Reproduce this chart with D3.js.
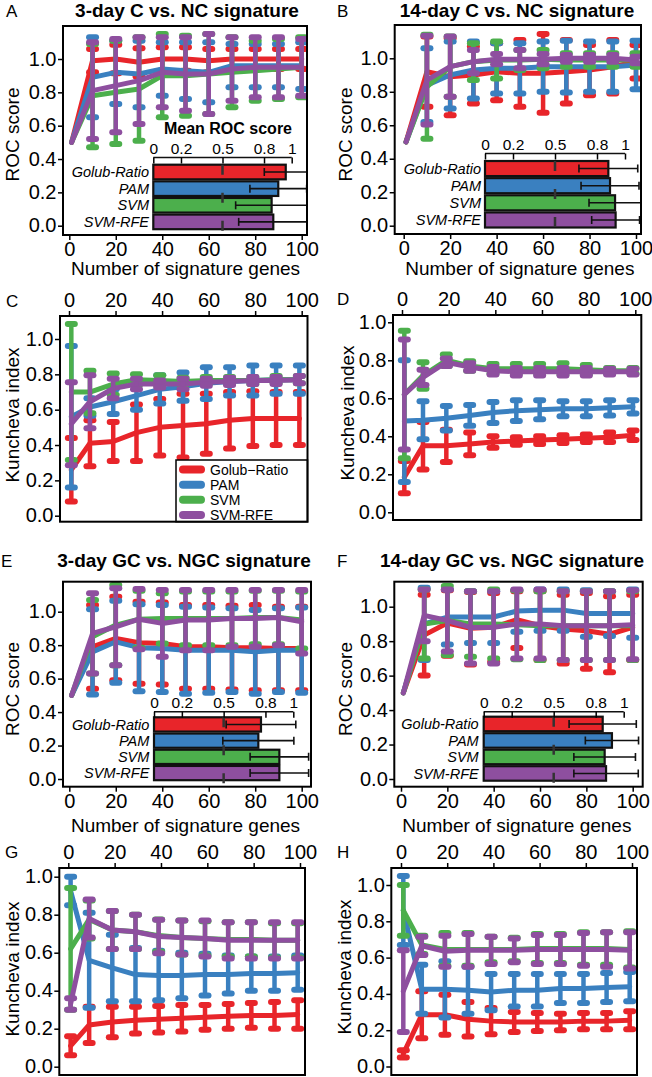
<!DOCTYPE html>
<html><head><meta charset="utf-8">
<script src="https://cdn.jsdelivr.net/npm/d3@7"></script>
<style>body{margin:0;background:#fff} svg{display:block}</style>
</head><body><svg id="c" width="652" height="1077"></svg>
<script>
// ---------- data ----------
const methods = ["Golub-Ratio", "PAM", "SVM", "SVM-RFE"];
const legendLabels = ["Golub\u2212Ratio", "PAM", "SVM", "SVM-RFE"];
const colors = ["#E8252A", "#3A80C0", "#4CAF4C", "#8E4F9F"];
const rocX = [1, 10, 20, 30, 40, 50, 60, 70, 80, 90, 100];
const kunX = [1, 9, 19, 29, 39, 49, 59, 69, 79, 89, 99];
const xTicks = [0, 20, 40, 60, 80, 100];
const yTicks = [0, 0.2, 0.4, 0.6, 0.8, 1.0];
const barTicks = [0, 0.2, 0.5, 0.8, 1];

// Panel A: 3-day C vs NC, ROC
const A_mean = [
  [0.5, 0.99, 1.0, 0.98, 1.0, 1.0, 0.99, 1.0, 1.0, 1.0, 1.0],
  [0.5, 0.89, 0.92, 0.91, 0.94, 0.93, 0.92, 0.96, 0.96, 0.96, 0.96],
  [0.5, 0.78, 0.80, 0.82, 0.90, 0.90, 0.91, 0.92, 0.93, 0.94, 0.95],
  [0.5, 0.81, 0.84, 0.87, 0.92, 0.91, 0.91, 0.94, 0.95, 0.95, 0.95]];
const A_sd = [
  [0, 0.07, 0.085, 0.085, 0.07, 0.07, 0.07, 0.06, 0.06, 0.06, 0.06],
  [0, 0.24, 0.19, 0.20, 0.16, 0.17, 0.18, 0.13, 0.13, 0.13, 0.14],
  [0, 0.31, 0.31, 0.31, 0.25, 0.24, 0.24, 0.21, 0.18, 0.18, 0.18],
  [0, 0.29, 0.28, 0.26, 0.21, 0.22, 0.24, 0.19, 0.18, 0.18, 0.17]];
const A_bar = [0.957, 0.903, 0.855, 0.867];
const A_barSd = [0.155, 0.205, 0.26, 0.25];

// Panel B: 14-day C vs NC, ROC
const B_mean = [
  [0.5, 0.92, 0.89, 0.90, 0.92, 0.91, 0.91, 0.92, 0.93, 0.95, 0.98],
  [0.5, 0.84, 0.90, 0.93, 0.94, 0.94, 0.95, 0.95, 0.95, 0.95, 0.96],
  [0.5, 0.83, 0.95, 0.98, 0.99, 0.99, 0.995, 0.99, 0.99, 0.99, 0.99],
  [0.5, 0.87, 0.95, 0.98, 0.995, 0.995, 0.995, 1.0, 1.0, 1.0, 0.99]];
const B_sd = [
  [0, 0.21, 0.23, 0.17, 0.17, 0.20, 0.235, 0.19, 0.15, 0.16, 0.10],
  [0, 0.22, 0.20, 0.17, 0.15, 0.15, 0.15, 0.155, 0.15, 0.15, 0.145],
  [0, 0.31, 0.18, 0.11, 0.11, 0.06, 0.055, 0.04, 0.04, 0.04, 0.04],
  [0, 0.265, 0.18, 0.07, 0.03, 0.055, 0.03, 0.02, 0.02, 0.02, 0.02]];
const B_bar = [0.881, 0.893, 0.929, 0.933];
const B_barSd = [0.21, 0.207, 0.186, 0.171];

// Panel C: 3-day C vs NC, Kuncheva
const C_mean = [
  [0.26, 0.41, 0.42, 0.47, 0.50, 0.51, 0.52, 0.54, 0.55, 0.55, 0.55],
  [0.56, 0.615, 0.645, 0.68, 0.715, 0.73, 0.75, 0.76, 0.765, 0.77, 0.77],
  [0.70, 0.70, 0.745, 0.77, 0.765, 0.76, 0.765, 0.765, 0.765, 0.77, 0.77],
  [0.52, 0.645, 0.72, 0.745, 0.745, 0.745, 0.755, 0.76, 0.765, 0.765, 0.77]];
const C_sd = [
  [0.18, 0.13, 0.11, 0.16, 0.16, 0.18, 0.17, 0.16, 0.155, 0.15, 0.15],
  [0.40, 0.05, 0.07, 0.08, 0.08, 0.08, 0.09, 0.08, 0.085, 0.08, 0.08],
  [0.385, 0.12, 0.06, 0.03, 0.03, 0.02, 0.02, 0.02, 0.02, 0.02, 0.02],
  [0.235, 0.15, 0.055, 0.03, 0.02, 0.03, 0.02, 0.02, 0.02, 0.02, 0.02]];

// Panel D: 14-day C vs NC, Kuncheva
const D_mean = [
  [0.185, 0.35, 0.35, 0.36, 0.37, 0.375, 0.38, 0.385, 0.39, 0.395, 0.405],
  [0.48, 0.485, 0.495, 0.51, 0.525, 0.535, 0.54, 0.545, 0.545, 0.55, 0.555],
  [0.62, 0.72, 0.80, 0.77, 0.755, 0.755, 0.755, 0.755, 0.75, 0.745, 0.745],
  [0.62, 0.71, 0.79, 0.765, 0.745, 0.74, 0.74, 0.74, 0.74, 0.74, 0.74]];
const D_sd = [
  [0.085, 0.125, 0.085, 0.06, 0.03, 0.02, 0.02, 0.02, 0.02, 0.025, 0.025],
  [0.32, 0.10, 0.065, 0.055, 0.055, 0.055, 0.05, 0.04, 0.04, 0.04, 0.035],
  [0.335, 0.07, 0.03, 0.025, 0.025, 0.025, 0.025, 0.03, 0.025, 0.015, 0.015],
  [0.29, 0.04, 0.02, 0.02, 0.02, 0.02, 0.02, 0.02, 0.02, 0.015, 0.015]];

// Panel E: 3-day GC vs NGC, ROC
const E_mean = [
  [0.5, 0.79, 0.84, 0.815, 0.81, 0.79, 0.79, 0.785, 0.785, 0.78, 0.78],
  [0.5, 0.76, 0.82, 0.785, 0.78, 0.77, 0.77, 0.77, 0.76, 0.77, 0.77],
  [0.5, 0.85, 0.92, 0.955, 0.96, 0.96, 0.96, 0.96, 0.965, 0.965, 0.95],
  [0.5, 0.87, 0.91, 0.955, 0.93, 0.95, 0.95, 0.96, 0.96, 0.965, 0.94]];
const E_sd = [
  [0, 0.25, 0.25, 0.245, 0.245, 0.25, 0.25, 0.25, 0.255, 0.25, 0.25],
  [0, 0.255, 0.245, 0.26, 0.26, 0.26, 0.255, 0.25, 0.25, 0.25, 0.255],
  [0, 0.22, 0.24, 0.17, 0.15, 0.16, 0.16, 0.16, 0.16, 0.16, 0.17],
  [0, 0.24, 0.23, 0.18, 0.20, 0.18, 0.18, 0.17, 0.17, 0.165, 0.19]];
const E_bar = [0.768, 0.749, 0.90, 0.90];
const E_barSd = [0.25, 0.255, 0.21, 0.21];

// Panel F: 14-day GC vs NGC, ROC
const F_mean = [
  [0.5, 0.835, 0.905, 0.875, 0.88, 0.925, 0.89, 0.87, 0.86, 0.84, 0.88],
  [0.5, 0.90, 0.94, 0.94, 0.94, 0.975, 0.98, 0.98, 0.96, 0.96, 0.96],
  [0.5, 0.90, 0.92, 0.90, 0.90, 0.895, 0.89, 0.89, 0.89, 0.89, 0.89],
  [0.5, 0.95, 0.92, 0.88, 0.88, 0.90, 0.90, 0.89, 0.89, 0.89, 0.895]];
const F_sd = [
  [0, 0.235, 0.19, 0.21, 0.20, 0.165, 0.20, 0.20, 0.22, 0.22, 0.19],
  [0, 0.21, 0.16, 0.15, 0.15, 0.12, 0.12, 0.12, 0.135, 0.13, 0.14],
  [0, 0.20, 0.20, 0.19, 0.20, 0.20, 0.20, 0.20, 0.20, 0.20, 0.20],
  [0, 0.15, 0.18, 0.21, 0.21, 0.20, 0.20, 0.20, 0.20, 0.20, 0.20]];
const F_bar = [0.85, 0.916, 0.864, 0.874];
const F_barSd = [0.24, 0.19, 0.22, 0.23];

// Panel G: 3-day GC vs NGC, Kuncheva
const G_mean = [
  [0.11, 0.22, 0.235, 0.245, 0.25, 0.255, 0.26, 0.265, 0.27, 0.27, 0.275],
  [0.925, 0.56, 0.52, 0.485, 0.48, 0.48, 0.485, 0.485, 0.49, 0.49, 0.495],
  [0.62, 0.775, 0.72, 0.71, 0.69, 0.68, 0.675, 0.67, 0.67, 0.665, 0.665],
  [0.33, 0.78, 0.72, 0.71, 0.685, 0.68, 0.675, 0.665, 0.665, 0.665, 0.665]];
const G_sd = [
  [0.05, 0.095, 0.08, 0.07, 0.07, 0.07, 0.065, 0.065, 0.065, 0.07, 0.075],
  [0.075, 0.25, 0.175, 0.14, 0.13, 0.12, 0.11, 0.10, 0.09, 0.09, 0.09],
  [0.32, 0.10, 0.10, 0.09, 0.085, 0.09, 0.09, 0.09, 0.09, 0.09, 0.09],
  [0.03, 0.10, 0.10, 0.09, 0.088, 0.09, 0.095, 0.095, 0.095, 0.095, 0.095]];

// Panel H: 14-day GC vs NGC, Kuncheva
const H_mean = [
  [0.07, 0.285, 0.285, 0.26, 0.25, 0.245, 0.245, 0.245, 0.25, 0.25, 0.255],
  [0.86, 0.425, 0.425, 0.42, 0.41, 0.42, 0.42, 0.43, 0.43, 0.435, 0.44],
  [0.86, 0.67, 0.645, 0.645, 0.645, 0.645, 0.65, 0.65, 0.65, 0.65, 0.645],
  [0.415, 0.665, 0.635, 0.64, 0.64, 0.64, 0.645, 0.645, 0.645, 0.645, 0.64]];
const H_sd = [
  [0.02, 0.13, 0.11, 0.095, 0.073, 0.055, 0.05, 0.045, 0.045, 0.045, 0.05],
  [0.19, 0.135, 0.155, 0.13, 0.10, 0.09, 0.09, 0.08, 0.08, 0.08, 0.08],
  [0.14, 0.05, 0.09, 0.09, 0.07, 0.065, 0.08, 0.08, 0.09, 0.09, 0.10],
  [0.225, 0.05, 0.085, 0.09, 0.075, 0.065, 0.08, 0.08, 0.09, 0.095, 0.10]];

// ---------- layout ----------
const FONT = '"Liberation Sans", Arial, Helvetica, sans-serif';
const svg = d3.select('#c');
svg.append('rect').attr('width', 652).attr('height', 1077).attr('fill', '#fff');

const panels = [
  {L:'A', xs:rocX, mean:A_mean, sd:A_sd, title:'3-day C vs. NC signature', ylab:'ROC score',
   fx:[63,307], fy:[26,235], xr:[69.3,301.7], yr:[225.7,59], xaxis:'bottom',
   tX:187, tY:17, lX:6, lY:17, ylX:18.5, ylY:134.5, xlY:275,
   inset:{bar:A_bar, sd:A_barSd, x:[153.3,291.7], ay:157.5, band:[164.7,229.2], labX:149, head:[228,134]}},
  {L:'B', xs:rocX, mean:B_mean, sd:B_sd, title:'14-day C vs. NC signature', ylab:'ROC score',
   fx:[394.7,641], fy:[25,234], xr:[403.7,636], yr:[225.7,58.3], xaxis:'bottom',
   tX:517, tY:17, lX:337, lY:17, ylX:352, ylY:134.5, xlY:275,
   inset:{bar:B_bar, sd:B_barSd, x:[485,625], ay:153.5, band:[161,227.5], labX:481}},
  {L:'C', xs:kunX, mean:C_mean, sd:C_sd, ylab:'Kuncheva index',
   fx:[60,307.5], fy:[316,521.7], xr:[69,301.7], yr:[515.7,339], xaxis:'top',
   lX:6, lY:306.5, ylX:18.5, ylY:415, legend:{x:[176,307.5], y:[460,521.7]}},
  {L:'D', xs:kunX, mean:D_mean, sd:D_sd, ylab:'Kuncheva index',
   fx:[393,641.3], fy:[315,520], xr:[402,635.3], yr:[512.3,322.3], xaxis:'top',
   lX:337, lY:305, ylX:353.5, ylY:413},
  {L:'E', xs:rocX, mean:E_mean, sd:E_sd, title:'3-day GC vs. NGC signature', ylab:'ROC score',
   fx:[63,311],   fy:[581.7,786.7], xr:[69.3,301.7], yr:[779,611.7], xaxis:'bottom',
   tX:184, tY:567, lX:1, lY:567, ylX:18.5, ylY:689, xlY:832,
   inset:{bar:E_bar, sd:E_barSd, x:[154,293.3], ay:711.7, band:[717.3,780.2], labX:149.3}},
  {L:'F', xs:rocX, mean:F_mean, sd:F_sd, title:'14-day GC vs. NGC signature', ylab:'ROC score',
   fx:[394.3,642.7], fy:[581.7,786.7], xr:[401,632.7], yr:[779,606.7], xaxis:'bottom',
   tX:512, tY:567, lX:337, lY:567, ylX:352, ylY:689, xlY:832,
   inset:{bar:F_bar, sd:F_barSd, x:[483.7,623.7], ay:711.7, band:[716.7,780.7], labX:478.7}},
  {L:'G', xs:kunX, mean:G_mean, sd:G_sd, ylab:'Kuncheva index',
   fx:[59.3,305], fy:[868,1075], xr:[68.3,300], yr:[1066.7,876.7], xaxis:'top',
   lX:5, lY:858, ylX:18.5, ylY:969},
  {L:'H', xs:kunX, mean:H_mean, sd:H_sd, ylab:'Kuncheva index',
   fx:[391.3,637], fy:[868,1075], xr:[401,632], yr:[1066.5,885], xaxis:'top',
   lX:337, lY:858, ylX:350.5, ylY:967}
];

function styleAxis(g, fs) {
  g.attr('font-family', FONT).attr('font-size', fs);
  g.select('.domain').remove();
  g.selectAll('.tick line').attr('stroke', '#000').attr('stroke-width', 1.5);
  g.selectAll('.tick text').attr('fill', '#000');
}

panels.forEach((p, pi) => {
  const g = svg.append('g');
  const x = d3.scaleLinear().domain([0, 100]).range(p.xr);
  const y = d3.scaleLinear().domain([0, 1]).range(p.yr);
  const clipId = 'clip' + pi;
  svg.append('clipPath').attr('id', clipId).append('rect')
    .attr('x', p.fx[0]).attr('y', p.fy[0]).attr('width', p.fx[1] - p.fx[0]).attr('height', p.fy[1] - p.fy[0]);
  const plot = g.append('g').attr('clip-path', `url(#${clipId})`);

  // series
  methods.forEach((m, i) => {
    const pts = p.xs.map((xv, j) => ({x: xv, m: p.mean[i][j], s: p.sd[i][j]}));
    const sg = plot.append('g');
    sg.append('path').datum(pts)
      .attr('d', d3.line().x(d => x(d.x)).y(d => y(d.m)))
      .attr('fill', 'none').attr('stroke', colors[i]).attr('stroke-width', 5)
      .attr('stroke-linejoin', 'round').attr('stroke-linecap', 'round');
    const eb = sg.selectAll('g.eb').data(pts.filter(d => d.s > 0)).join('g');
    eb.append('line').attr('x1', d => x(d.x)).attr('x2', d => x(d.x))
      .attr('y1', d => y(d.m - d.s)).attr('y2', d => y(d.m + d.s))
      .attr('stroke', colors[i]).attr('stroke-width', 4.5);
    [-1, 1].forEach(sgn => {
      eb.append('line').attr('x1', d => x(d.x) - 3.5).attr('x2', d => x(d.x) + 3.5)
        .attr('y1', d => y(d.m + sgn * d.s)).attr('y2', d => y(d.m + sgn * d.s))
        .attr('stroke', colors[i]).attr('stroke-width', 6).attr('stroke-linecap', 'round');
    });
  });

  // inset bar chart
  if (p.inset) {
    const ins = p.inset;
    const bx = d3.scaleLinear().domain([0, 1]).range(ins.x);
    const by = d3.scaleBand().domain(methods).range(ins.band).paddingInner(0.12);
    const ig = g.append('g');
    const ic = ig.append('g').attr('clip-path', `url(#${clipId})`);
    ic.selectAll('rect.bar').data(ins.bar).join('rect')
      .attr('x', bx(0)).attr('y', (d, i) => by(methods[i]))
      .attr('width', d => bx(d) - bx(0)).attr('height', by.bandwidth())
      .attr('fill', (d, i) => colors[i]).attr('stroke', '#111').attr('stroke-width', 2.2);
    ic.append('line').attr('x1', bx(0.5)).attr('x2', bx(0.5))
      .attr('y1', ins.band[0]).attr('y2', p.fy[1])
      .attr('stroke', '#333').attr('stroke-width', 2.5).attr('stroke-dasharray', '10,18');
    ins.bar.forEach((v, i) => {
      const cy = by(methods[i]) + by.bandwidth() / 2;
      const lo = v - ins.sd[i], hi = v + ins.sd[i];
      ic.append('line').attr('x1', bx(lo)).attr('x2', bx(hi)).attr('y1', cy).attr('y2', cy)
        .attr('stroke', '#111').attr('stroke-width', 1.6);
      [lo, hi].forEach(e => ic.append('line').attr('x1', bx(e)).attr('x2', bx(e))
        .attr('y1', cy - 4).attr('y2', cy + 4).attr('stroke', '#111').attr('stroke-width', 1.6));
    });
    // axis
    ig.append('line').attr('x1', bx(0)).attr('x2', bx(1)).attr('y1', ins.ay).attr('y2', ins.ay)
      .attr('stroke', '#111').attr('stroke-width', 1.5);
    const ax = ig.append('g').attr('transform', `translate(0,${ins.ay})`)
      .call(d3.axisTop(bx).tickValues(barTicks).tickSize(-6).tickPadding(4).tickFormat(d3.format('')));
    styleAxis(ax, 15.5);
    // labels
    ig.selectAll('text.lab').data(methods).join('text')
      .attr('x', ins.labX).attr('y', d => by(d) + by.bandwidth() / 2).attr('dy', '0.36em')
      .attr('text-anchor', 'end').attr('font-style', 'italic').attr('font-family', FONT)
      .attr('font-size', 14.5).text(d => d);
    if (ins.head) {
      ig.append('text').attr('x', ins.head[0]).attr('y', ins.head[1]).attr('text-anchor', 'middle')
        .attr('font-family', FONT).attr('font-weight', 'bold').attr('font-size', 16).text('Mean ROC score');
    }
  }

  // legend
  if (p.legend) {
    const lg = g.append('g');
    lg.append('rect').attr('x', p.legend.x[0]).attr('y', p.legend.y[0])
      .attr('width', p.legend.x[1] - p.legend.x[0]).attr('height', p.legend.y[1] - p.legend.y[0])
      .attr('fill', '#fff').attr('stroke', '#000').attr('stroke-width', 1.5);
    const ly = d3.scalePoint().domain(legendLabels).range([469.5, 515]);
    legendLabels.forEach((t, i) => {
      lg.append('line').attr('x1', p.legend.x[0] + 7).attr('x2', p.legend.x[0] + 25)
        .attr('y1', ly(t)).attr('y2', ly(t)).attr('stroke', colors[i])
        .attr('stroke-width', 8).attr('stroke-linecap', 'round');
      lg.append('text').attr('x', p.legend.x[0] + 34).attr('y', ly(t)).attr('dy', '0.36em')
        .attr('font-family', FONT).attr('font-size', 14).text(t);
    });
  }

  // frame
  g.append('rect').attr('x', p.fx[0]).attr('y', p.fy[0])
    .attr('width', p.fx[1] - p.fx[0]).attr('height', p.fy[1] - p.fy[0])
    .attr('fill', 'none').attr('stroke', '#000').attr('stroke-width', 2);

  // axes
  const yAx = g.append('g').attr('transform', `translate(${p.fx[0]},0)`)
    .call(d3.axisLeft(y).tickValues(yTicks).tickSize(5).tickPadding(1.5).tickFormat(d3.format('.1f')));
  styleAxis(yAx, 20);
  yAx.selectAll('.tick text').attr('dy', '0.3em');
  if (p.xaxis === 'bottom') {
    const xAx = g.append('g').attr('transform', `translate(0,${p.fy[1]})`)
      .call(d3.axisBottom(x).tickValues(xTicks).tickSize(5).tickPadding(2));
    styleAxis(xAx, 20);
    g.append('text').attr('x', (p.xr[0] + p.xr[1]) / 2).attr('y', p.xlY).attr('text-anchor', 'middle')
      .attr('font-family', FONT).attr('font-size', 19).text('Number of signature genes');
  } else {
    const xAx = g.append('g').attr('transform', `translate(0,${p.fy[0]})`)
      .call(d3.axisTop(x).tickValues(xTicks).tickSize(5).tickPadding(4));
    styleAxis(xAx, 20);
  }
  // y label
  g.append('text').attr('transform', `translate(${p.ylX},${p.ylY}) rotate(-90)`)
    .attr('text-anchor', 'middle').attr('font-family', FONT).attr('font-size', 19).text(p.ylab);
  // title and letter
  if (p.title) {
    g.append('text').attr('x', p.tX).attr('y', p.tY).attr('text-anchor', 'middle')
      .attr('font-family', FONT).attr('font-weight', 'bold').attr('font-size', 19).text(p.title);
  }
  g.append('text').attr('x', p.lX).attr('y', p.lY).attr('font-family', FONT)
    .attr('font-size', 17).text(p.L);
});
</script></body></html>
